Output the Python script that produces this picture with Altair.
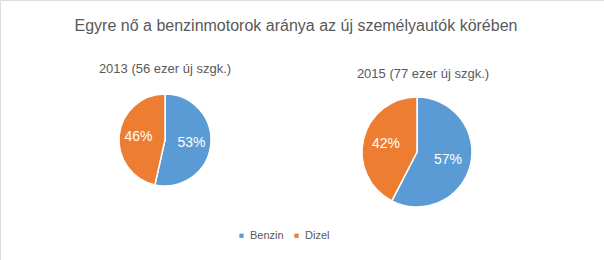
import altair as alt
import pandas as pd

title_text = "Egyre nő a benzinmotorok aránya az új személyautók körében"
fuels = ["Benzin", "Dizel"]
subtitles = ["2013 (56 ezer új szgk.)", "2015 (77 ezer új szgk.)"]
share_2013 = [53, 46]
share_2015 = [57, 42]
colors = ["#5B9BD5", "#ED7D31"]

FONT = "Liberation Sans"
GREY = "#595959"


def pie(values, cx, cy, r, subtitle, sx, sy, with_legend):
    df = pd.DataFrame({
        "fuel": fuels,
        "share": values,
        "label": [f"{v}%" for v in values],
        "order": list(range(len(fuels))),
    })
    base = alt.Chart(df).encode(
        theta=alt.Theta("share:Q", stack=True),
        order=alt.Order("order:Q"),
    )
    if with_legend:
        legend = alt.Legend(title=None, orient="none", legendX=236, legendY=230,
                            direction="horizontal", symbolType="square", symbolSize=18,
                            labelFontSize=11, labelColor=GREY, labelFont=FONT,
                            columnPadding=7, labelOffset=3, symbolStrokeWidth=0)
    else:
        legend = None
    arc = base.mark_arc(radius=r, stroke="white", strokeWidth=1.5).encode(
        color=alt.Color("fuel:N", scale=alt.Scale(domain=fuels, range=colors), legend=legend),
        x=alt.value(cx), y=alt.value(cy),
    )
    txt = base.mark_text(radius=r * 0.58, color="white", fontSize=14, font=FONT).encode(
        text="label:N", x=alt.value(cx), y=alt.value(cy),
    )
    sub = alt.Chart(pd.DataFrame({"t": [subtitle]})).mark_text(
        fontSize=13, font=FONT, color=GREY
    ).encode(text="t:N", x=alt.value(sx), y=alt.value(sy))
    return alt.layer(arc, txt, sub).resolve_scale(theta="independent")


title = alt.Chart(pd.DataFrame({"t": [title_text]})).mark_text(
    fontSize=16, font=FONT, color=GREY
).encode(text="t:N", x=alt.value(296), y=alt.value(26))

p1 = pie(share_2013, 165, 140, 46, subtitles[0], 165, 69, True)
p2 = pie(share_2015, 417, 152, 55, subtitles[1], 423, 74, False)

chart = alt.layer(title, p1, p2).resolve_scale(theta="independent").properties(
    width=604, height=260, autosize=alt.AutoSizeParams(type="none"), padding=0
).configure_view(stroke=None).configure(background="white")

chart.save("out.html", embed_options={"renderer": "svg", "actions": False})
